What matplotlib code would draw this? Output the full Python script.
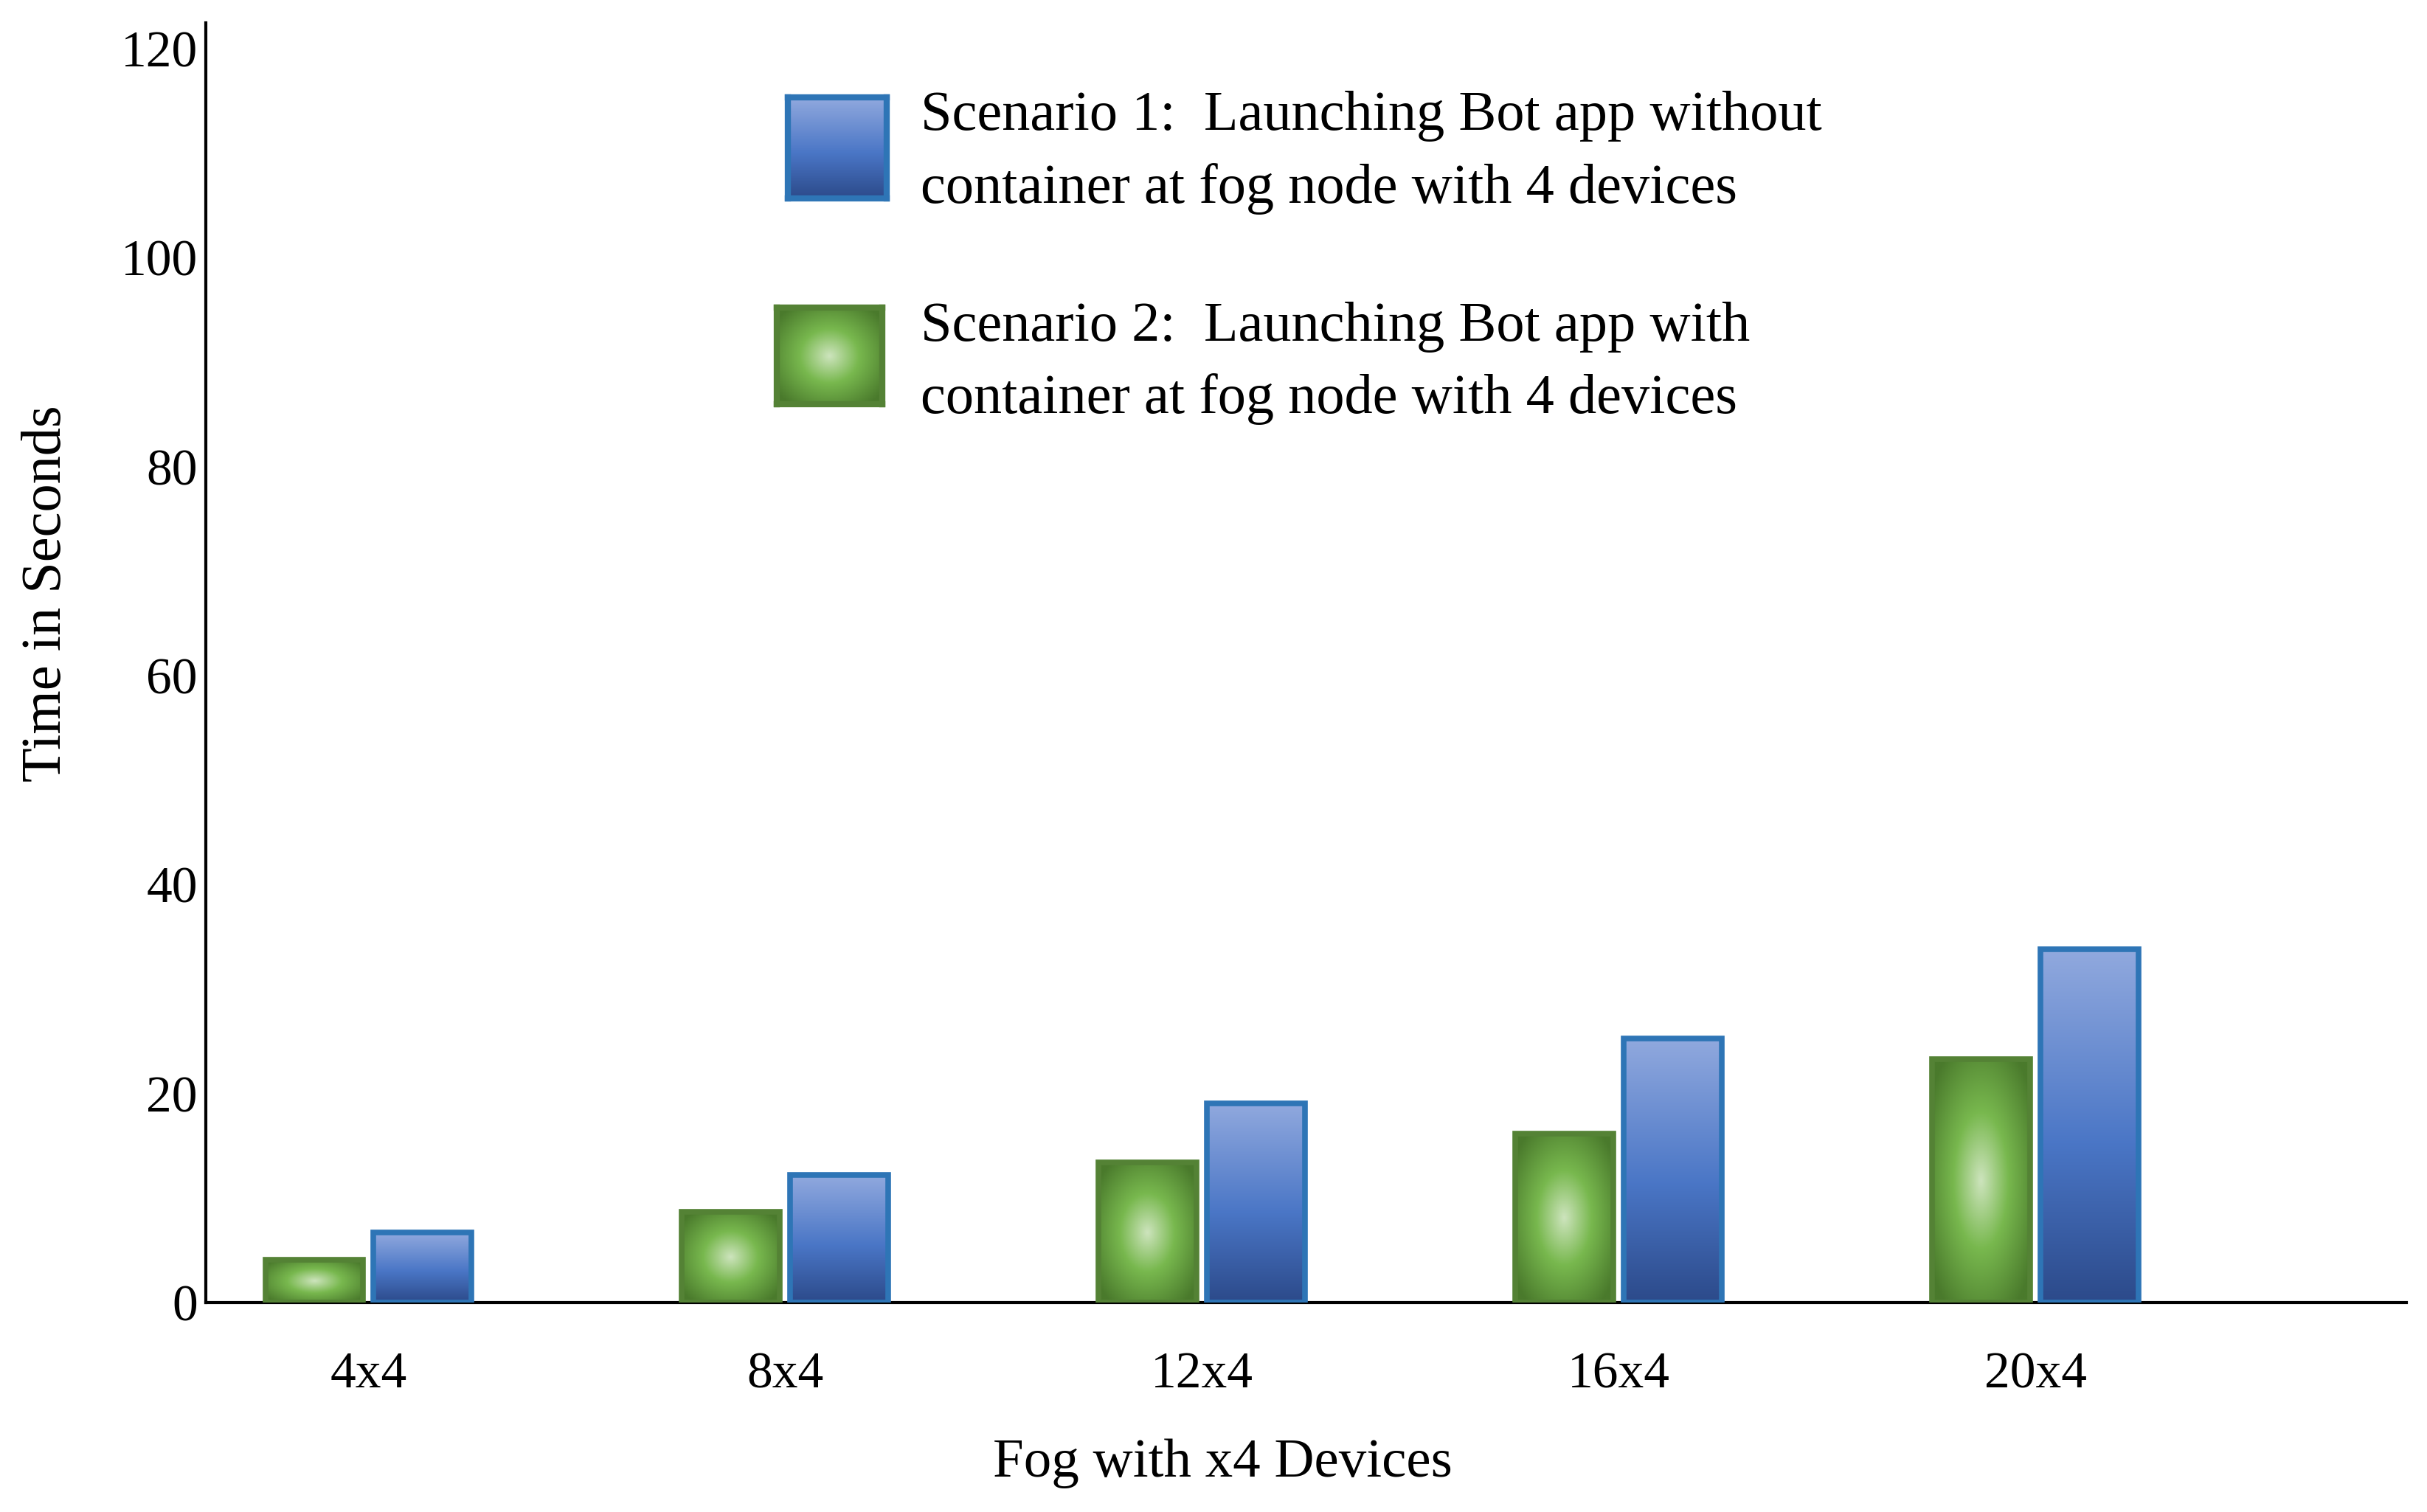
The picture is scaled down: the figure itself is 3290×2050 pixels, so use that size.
import matplotlib
matplotlib.use("Agg")
import matplotlib.pyplot as plt
from matplotlib.colors import LinearSegmentedColormap
import numpy as np

plt.rcParams['font.family'] = ['Liberation Serif', 'DejaVu Serif']

# data
groups = ["4x4", "8x4", "12x4", "16x4", "20x4"]
with_container = [4.1, 8.7, 13.4, 16.2, 23.3]       # scenario 2 (green)
without_container = [6.7, 12.2, 19.1, 25.3, 33.8]   # scenario 1 (blue)
yticks = [0, 20, 40, 60, 80, 100, 120]

legend1 = ["Scenario 1:  Launching Bot app without",
           "container at fog node with 4 devices"]
legend2 = ["Scenario 2:  Launching Bot app with",
           "container at fog node with 4 devices"]

blue_cmap = LinearSegmentedColormap.from_list(
    "b", [(0.0, "#2c4a8a"), (0.45, "#4a76c6"), (1.0, "#91a9de")])
green_cmap = LinearSegmentedColormap.from_list(
    "g", [(0.0, "#cde4bd"), (0.45, "#78b84e"), (1.0, "#4a7a2c")])


def blue_img():
    g = np.linspace(0, 1, 256)[:, None] * np.ones((1, 16))
    return blue_cmap(g)


def green_img():
    yy, xx = np.mgrid[-1:1:200j, -1:1:200j]
    r = np.sqrt(xx**2 + yy**2) / 1.25
    return green_cmap(np.clip(r, 0, 1))


def fill_bars(ax, bars, img):
    for p in bars:
        x0 = p.get_x()
        im = ax.imshow(img, extent=(x0, x0 + p.get_width(), 0, p.get_height()),
                       aspect='auto', origin='lower', interpolation='bilinear',
                       zorder=2)
        im.set_clip_path(p)


fig = plt.figure(figsize=(32.9, 20.5), dpi=100)
ax = fig.add_axes([0.0848, 0.1385, 0.9067, 0.8465])

x = np.arange(len(groups))
w = 0.235
off = 0.13

gb = ax.bar(x - off, with_container, w, facecolor='none', edgecolor='#548235',
            linewidth=5.5, zorder=3)
bb = ax.bar(x + off, without_container, w, facecolor='none', edgecolor='#2e75b6',
            linewidth=5.5, zorder=3)
fill_bars(ax, gb, green_img())
fill_bars(ax, bb, blue_img())

ax.set_xlim(-0.39, 4.89)
ax.set_ylim(0, 122.5)
ax.set_yticks(yticks)
ax.set_xticks(x)
ax.set_xticklabels(groups)
ax.tick_params(axis='both', length=0, labelsize=50)
ax.tick_params(axis='x', pad=48)
ax.tick_params(axis='y', pad=8)

for s in ['top', 'right']:
    ax.spines[s].set_visible(False)
for s in ['left', 'bottom']:
    ax.spines[s].set_linewidth(3)
    ax.spines[s].set_color('black')

ax.set_xlabel("Fog with x4 Devices", fontsize=54, va='center')
ax.xaxis.set_label_coords(0.462, -0.126)
ax.set_ylabel("Time in Seconds", fontsize=55, va='center')
ax.yaxis.set_label_coords(-0.0724, 0.554)

# legend, drawn by hand
def swatch(rect, img, edge):
    sa = fig.add_axes(rect)
    sa.imshow(img, aspect='auto', origin='lower', interpolation='bilinear',
              extent=(0, 1, 0, 1))
    sa.set_xticks([])
    sa.set_yticks([])
    for s in sa.spines.values():
        s.set_color(edge)
        s.set_linewidth(6)

swatch([0.3246, 0.8688, 0.0407, 0.0668], blue_img(), '#2e75b6')
swatch([0.3201, 0.7327, 0.0434, 0.0639], green_img(), '#548235')

fig.text(0.3793, 0.9234, legend1[0], fontsize=55, va='center')
fig.text(0.3793, 0.8751, legend1[1], fontsize=55, va='center')
fig.text(0.3793, 0.7839, legend2[0], fontsize=55, va='center')
fig.text(0.3793, 0.7361, legend2[1], fontsize=55, va='center')

fig.savefig("out.png", dpi=100, facecolor='white')
